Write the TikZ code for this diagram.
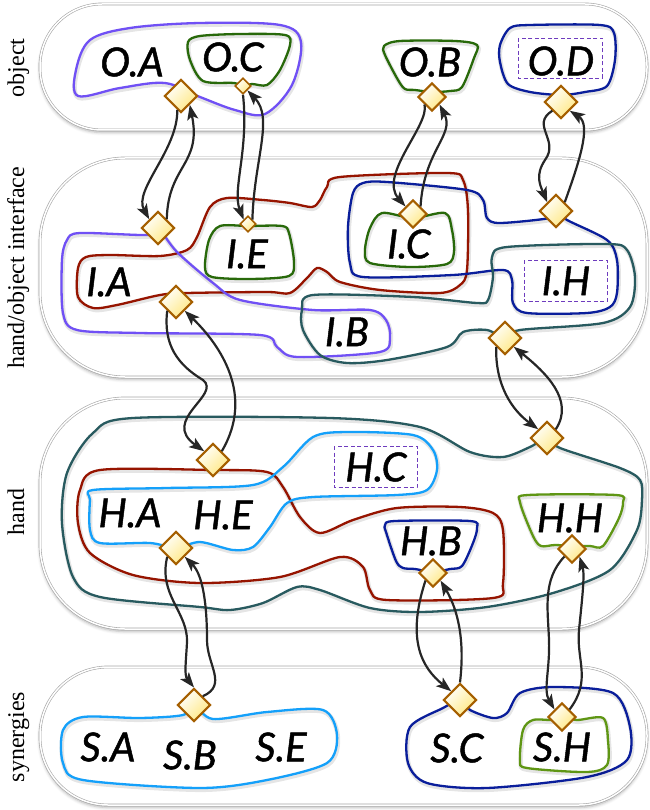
\documentclass[tikz,border=0pt]{standalone}
\usepackage{fontspec}
\setmainfont{Liberation Serif}
\newfontfamily\lab[ItalicFeatures={FakeBold=1.2}]{Lato}
\usetikzlibrary{shapes.geometric,arrows.meta,shadows.blur}
\definecolor{cpurple}{RGB}{112,80,245}
\definecolor{cgreen}{RGB}{40,105,10}
\definecolor{clgreen}{RGB}{95,150,20}
\definecolor{cnavy}{RGB}{10,30,155}
\definecolor{cred}{RGB}{150,20,0}
\definecolor{cteal}{RGB}{40,90,95}
\definecolor{clblue}{RGB}{20,160,250}
\definecolor{cdash}{RGB}{110,60,190}
\definecolor{cdia}{RGB}{165,95,0}
\definecolor{cdiafill}{RGB}{255,232,130}
\tikzset{
  panel/.style={draw=gray!70, double=white, double distance=1.5pt, line width=0.6pt, fill=white,
    blur shadow={shadow xshift=0pt, shadow yshift=-2.5pt, shadow blur radius=3pt, shadow opacity=30}},
  blob/.style={line width=2.3pt, line join=round,
    preaction={draw=black, draw opacity=0.10, line width=4.5pt, transform canvas={shift={(0.8pt,-1.8pt)}}}},
  conn/.style={line width=2.2pt, draw=black!85, -{Stealth[length=15pt,width=11pt,inset=3.5pt]}},
  dia/.style={diamond, draw=cdia, line width=2.1pt, top color=white, bottom color=cdiafill,
    shading angle=45, minimum size=33pt, inner sep=0pt},
  diam/.style={dia, minimum size=28pt},
  dias/.style={dia, minimum size=16pt, line width=1.6pt},
  lbl/.style={font=\lab\itshape\fontsize{40}{40}\selectfont, inner sep=0pt},
  side/.style={rotate=90, anchor=base, font=\fontsize{24}{24}\selectfont, inner sep=0pt},
  dashbox/.style={draw=cdash, line width=0.9pt, dash pattern=on 4pt off 2.5pt}
}
\begin{document}
\begin{tikzpicture}[x=1pt, y=-1pt]
\useasboundingbox (0,0) rectangle (649,810);
% panels
\path[panel, rounded corners=62pt] (40,4) rectangle (647,130);
\path[panel, rounded corners=85pt] (40,158) rectangle (647,377);
\path[panel, rounded corners=85pt] (40,398) rectangle (647,629);
\path[panel, rounded corners=68pt] (40,667) rectangle (647,805);
% side labels
\node[side] (lo) at (24,68) {object};
\node[side] (li) at (24,268) {hand/object interface};
\node[side] (lh) at (24,512) {hand};
\node[side] (ls) at (24,737) {synergies};

% ---------- object blobs
\draw[blob, cpurple] plot[smooth cycle, tension=0.55] coordinates {(78,96) (76,70) (90,40) (130,28) (200,23) (280,25) (301,42) (292,85) (265,114) (235,110) (200,97) (165,83) (120,88)};
\draw[blob, cgreen] plot[smooth cycle, tension=0.5] coordinates {(203,81) (190,60) (188,42) (200,36) (240,34) (285,35) (290,45) (280,70) (267,85) (252,84) (243,86) (234,83)};
\draw[blob, cgreen] plot[smooth cycle, tension=0.5] coordinates {(384,46) (400,41) (455,41) (477,45) (474,58) (462,87) (450,91) (432,92) (415,90) (405,89) (398,80) (385,55)};
\draw[blob, cnavy] plot[smooth cycle, tension=0.5] coordinates {(500,45) (510,28) (530,25) (600,25) (614,33) (615,60) (607,86) (585,92) (561,95) (530,92) (508,84) (500,62)};
\draw[dashbox] (518,38) rectangle (602,78);

% ---------- interface blobs
\draw[blob, cred] plot[smooth cycle, tension=0.5] coordinates {(78,268) (86,257) (110,255) (160,256) (187,250) (197,237) (210,207) (227,198) (263,200) (290,203) (312,207) (320,200) (327,187) (340,177) (447,173) (463,180) (468,210) (467,270) (460,285) (440,293) (380,290) (340,282) (327,272) (317,268) (307,278) (290,293) (267,292) (187,293) (160,295) (117,305) (93,308) (78,297)};
\draw[blob, cpurple] plot[smooth cycle, tension=0.5] coordinates {(158,228) (177,252) (213,283) (240,300) (313,310) (370,310) (386,320) (390,337) (380,352) (297,357) (277,347) (260,335) (140,333) (77,330) (63,313) (62,260) (67,240) (80,233) (150,235)};
\draw[blob, cgreen] plot[smooth cycle, tension=0.5] coordinates {(220,226) (248,226) (282,226) (289,233) (294,262) (289,276) (250,279) (212,277) (205,267) (209,240)};
\draw[blob, cnavy] plot[smooth cycle, tension=0.5] coordinates {(353,193) (363,183) (387,182) (467,190) (483,200) (487,218) (500,223) (550,218) (556,211) (567,220) (607,240) (617,260) (617,293) (610,307) (587,313) (527,313) (513,303) (512,280) (503,270) (453,275) (363,277) (350,263) (348,227)};
\draw[blob, cgreen] plot[smooth cycle, tension=0.5] coordinates {(382,213) (413,218) (445,213) (452,230) (454,252) (447,264) (410,267) (370,263) (365,250) (370,228)};
\draw[blob, cteal] plot[smooth cycle, tension=0.5] coordinates {(505,338) (520,330) (603,323) (630,307) (635,277) (627,250) (607,244) (507,247) (492,257) (493,277) (488,300) (477,303) (413,297) (313,295) (302,310) (303,330) (320,355) (347,363) (387,360) (447,347) (463,332) (487,330)};
\draw[dashbox] (524,260) rectangle (607,301);

% ---------- hand blobs
\draw[blob, cteal] plot[smooth cycle, tension=0.5] coordinates {(547,438) (560,448) (620,468) (640,480) (642,500) (637,530) (610,570) (553,593) (487,607) (420,612) (370,608) (320,590) (297,587) (263,603) (230,610) (200,607) (100,597) (73,577) (62,523) (67,473) (93,433) (133,418) (330,418) (420,427) (470,452) (503,457) (530,447)};
\draw[blob, cred] plot[smooth cycle, tension=0.5] coordinates {(100,470) (213,470) (267,472) (283,487) (300,517) (320,533) (353,520) (397,508) (460,507) (493,513) (503,530) (503,583) (493,598) (387,600) (370,590) (363,567) (340,557) (280,577) (200,583) (133,575) (90,553) (78,523) (80,490)};
\draw[blob, clblue] plot[smooth cycle, tension=0.5] coordinates {(93,490) (167,488) (253,485) (283,467) (313,437) (347,432) (413,435) (433,450) (437,470) (427,490) (397,495) (313,497) (287,503) (270,527) (253,547) (233,550) (200,542) (176,548) (150,543) (100,543) (90,530) (90,500)};
\draw[dashbox] (334,446) rectangle (417,487);
\draw[blob, cnavy] plot[smooth cycle, tension=0.5] coordinates {(385,525) (395,521) (470,521) (477,528) (473,543) (462,566) (450,569) (433,572) (415,569) (403,568) (396,561) (386,532)};
\draw[blob, clgreen] plot[smooth cycle, tension=0.5] coordinates {(520,502) (528,495) (616,495) (623,502) (619,518) (603,546) (590,546) (572,546) (555,545) (541,546) (533,536)};

% ---------- synergy blobs
\draw[blob, clblue] plot[smooth cycle, tension=0.5] coordinates {(194,705) (213,719) (267,712) (323,710) (337,735) (327,763) (267,780) (200,788) (83,780) (63,763) (63,730) (83,717) (140,718) (183,715)};
\draw[blob, cnavy] plot[smooth cycle, tension=0.5] coordinates {(460,700) (470,710) (493,718) (507,713) (520,693) (553,687) (613,693) (630,727) (627,760) (587,777) (487,788) (427,783) (408,763) (410,727) (443,708)};
\draw[blob, clgreen] plot[smooth cycle, tension=0.5] coordinates {(520,760) (523,730) (533,720) (553,720) (562,717) (577,720) (603,718) (608,740) (607,765) (587,772) (527,768)};

% ---------- diamonds
\node[dia]  (dOA) at (181,96) {};
\node[dias] (dOC) at (243,86) {};
\node[diam] (dOB) at (432,97) {};
\node[dia]  (dOD) at (561,102) {};
\node[dia]  (dIA1) at (158,228) {};
\node[dias] (dIE) at (248,224) {};
\node[diam] (dIC) at (413,214) {};
\node[dia]  (dIH) at (556,211) {};
\node[dia]  (dIA2) at (176,302) {};
\node[dia]  (dIB) at (505,338) {};
\node[dia]  (dHA1) at (213,460) {};
\node[dia]  (dHT) at (547,438) {};
\node[dia]  (dHA2) at (176,548) {};
\node[diam] (dHB) at (433,573) {};
\node[diam] (dHH) at (572,549) {};
\node[dia]  (dSB) at (194,705) {};
\node[dia]  (dSC) at (460,700) {};
\node[diam] (dSH) at (562,717) {};

% ---------- connectors
\draw[conn] (dOA.-105) .. controls (178,150) and (133,190) .. (dIA1.north west);
\draw[conn] (dIA1.north east) .. controls (168,165) and (202,165) .. (dOA.south east);
\draw[conn] (dOC.south) .. controls (249,150) and (232,190) .. (dIE.north west);
\draw[conn] (dIE.north east) .. controls (254,160) and (274,118) .. (dOC.south east);
\draw[conn] (dOB.south west) .. controls (430,125) and (378,175) .. (dIC.north west);
\draw[conn] (dIC.north east) .. controls (424,150) and (455,135) .. (dOB.south east);
\draw[conn] (dOD.south west) .. controls (530,125) and (560,140) .. (545,160) .. controls (535,175) and (540,185) .. (dIH.north west);
\draw[conn] (dIH.north east) .. controls (578,165) and (592,125) .. (dOD.south east);
\draw[conn] (dIA2.south west) .. controls (163,345) and (178,365) .. (203,380) .. controls (222,395) and (160,420) .. (dHA1.north west);
\draw[conn] (dHA1.north east) .. controls (255,395) and (220,345) .. (dIA2.south east);
\draw[conn] (dIB.south west) .. controls (495,385) and (512,410) .. (dHT.north west);
\draw[conn] (dHT.north east) .. controls (575,400) and (545,372) .. (dIB.south east);
\draw[conn] (dHA2.south west) .. controls (158,595) and (188,612) .. (187,642) .. controls (186,662) and (184,675) .. (dSB.north);
\draw[conn] (dSB.north east) .. controls (228,685) and (207,665) .. (207,640) .. controls (207,605) and (203,575) .. (dHA2.south east);
\draw[conn] (dHB.south west) .. controls (406,640) and (422,668) .. (dSC.north west);
\draw[conn] (dSC.north) .. controls (465,640) and (458,610) .. (dHB.south east);
\draw[conn] (dHH.south west) .. controls (542,580) and (548,610) .. (549,640) .. controls (550,670) and (543,690) .. (dSH.north west);
\draw[conn] (dSH.north east) .. controls (592,680) and (576,660) .. (579,630) .. controls (582,600) and (585,575) .. (dHH.south east);

% ---------- labels
\node[lbl] (tOA) at (132,62) {O.A};
\node[lbl] (tOC) at (233,57) {O.C};
\node[lbl] (tOB) at (430,62) {O.B};
\node[lbl] (tOD) at (561,61) {O.D};
\node[lbl] (tIA) at (109,282) {I.A};
\node[lbl] (tIE) at (247,254) {I.E};
\node[lbl] (tIC) at (409,244) {I.C};
\node[lbl] (tIH) at (566,281) {I.H};
\node[lbl] (tIB) at (347,332) {I.B};
\node[lbl] (tHA) at (130,513) {H.A};
\node[lbl] (tHE) at (223,515) {H.E};
\node[lbl] (tHC) at (376,467) {H.C};
\node[lbl] (tHB) at (431,541) {H.B};
\node[lbl] (tHH) at (570,518) {H.H};
\node[lbl] (tSA) at (108,747) {S.A};
\node[lbl] (tSB) at (190,755) {S.B};
\node[lbl] (tSE) at (281,747) {S.E};
\node[lbl] (tSC) at (457,748) {S.C};
\node[lbl] (tSH) at (562,747) {S.H};
\end{tikzpicture}
\end{document}
